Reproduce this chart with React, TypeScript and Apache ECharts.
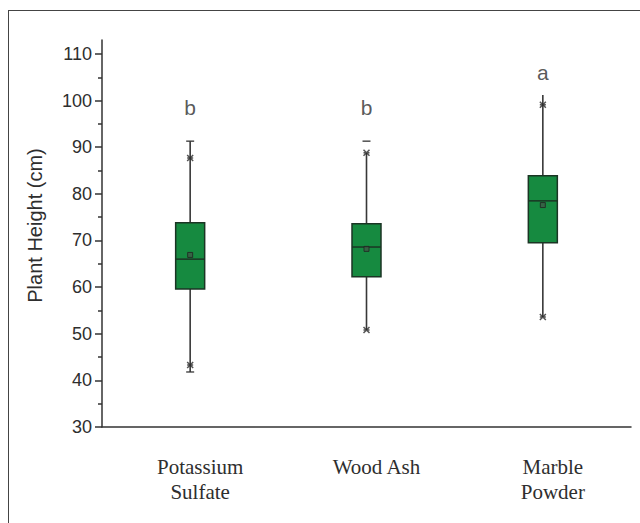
import React, { useEffect, useRef } from 'react';
import * as echarts from 'echarts';

const categories = ['Potassium\nSulfate', 'Wood Ash', 'Marble\nPowder'];
const whiskerLow = [41.8, 50.8, 53.6];
const q1 = [59.6, 62.2, 69.5];
const median = [66.0, 68.6, 78.5];
const q3 = [73.8, 73.6, 83.9];
const whiskerHigh = [91.3, 88.8, 101.2];
const meanValues = [66.9, 68.2, 77.6];
const p1Values = [43.3, 50.8, 53.6];
const p99Values = [87.7, 88.8, 99.1];
const maxValues = [91.3, 91.3, null];
const minValues = [41.8, null, null];
const groupLetters = ['b', 'b', 'a'];
const letterY = [98.5, 98.5, 106.0];
const yMajorTicks = [30, 40, 50, 60, 70, 80, 90, 100, 110];
const yMinorTicks = [35, 45, 55, 65, 75, 85, 95, 105];

const SANS = '"Liberation Sans", Arial, sans-serif';
const SERIF = '"Liberation Serif", "Times New Roman", serif';
const AXIS = '#333333';
const TEXT = '#2e2e2e';

export default function App() {
  const ref = useRef<HTMLDivElement>(null);
  useEffect(() => {
    if (!ref.current) return;
    const chart = echarts.init(ref.current, undefined, { renderer: 'svg' });
    const boxData = categories.map((_, i) => [i, whiskerLow[i], q1[i], median[i], q3[i], whiskerHigh[i]]);
    const pick = (arr: (number | null)[]) =>
      arr.map((v, i) => (v == null ? null : [i, v])).filter((d) => d !== null);
    chart.setOption({
      animation: false,
      grid: { left: 93, right: 9, top: 29, bottom: 96 },
      xAxis: {
        type: 'category',
        data: categories,
        boundaryGap: true,
        axisLine: { lineStyle: { color: AXIS, width: 1.5 } },
        axisTick: { alignWithLabel: true, length: 5, lineStyle: { color: AXIS, width: 1.5 } },
        axisLabel: {
          fontFamily: SERIF,
          fontSize: 21,
          color: TEXT,
          lineHeight: 25,
          margin: 27,
          padding: [0, 0, 0, 20],
        },
        splitLine: { show: false },
      },
      yAxis: [
        {
          type: 'value',
          position: 'left',
          min: 30,
          max: 113,
          interval: 10,
          name: 'Plant Height (cm)',
          nameLocation: 'middle',
          nameGap: 57,
          nameTextStyle: { fontFamily: SANS, fontSize: 20, color: TEXT, padding: [0, 0, 0, 16] },
          axisLine: { show: true, lineStyle: { color: AXIS, width: 1.5 } },
          axisTick: { show: true, length: 7, customValues: yMajorTicks, lineStyle: { color: AXIS, width: 1.5 } },
          axisLabel: { fontFamily: SANS, fontSize: 18, color: TEXT, margin: 10, customValues: yMajorTicks },
          splitLine: { show: false },
        },
        {
          type: 'value',
          position: 'left',
          min: 30,
          max: 113,
          interval: 10,
          axisLine: { show: false },
          axisTick: { show: true, length: 4, customValues: yMinorTicks, lineStyle: { color: AXIS, width: 1.5 } },
          axisLabel: { show: false },
          splitLine: { show: false },
        },
      ],
      series: [
        {
          type: 'custom',
          z: 2,
          data: boxData,
          encode: { x: 0, y: [1, 2, 3, 4, 5] },
          renderItem: (params: any, api: any) => {
            const c = api.value(0);
            const x = api.coord([c, api.value(3)])[0];
            const yLow = api.coord([c, api.value(1)])[1];
            const yQ1 = api.coord([c, api.value(2)])[1];
            const yMed = api.coord([c, api.value(3)])[1];
            const yQ3 = api.coord([c, api.value(4)])[1];
            const yHigh = api.coord([c, api.value(5)])[1];
            const half = 14.5;
            const whisk = { stroke: '#383838', lineWidth: 1.6 };
            return {
              type: 'group',
              children: [
                { type: 'line', shape: { x1: x, y1: yLow, x2: x, y2: yQ1 }, style: whisk },
                { type: 'line', shape: { x1: x, y1: yQ3, x2: x, y2: yHigh }, style: whisk },
                {
                  type: 'rect',
                  shape: { x: x - half, y: yQ3, width: half * 2, height: yQ1 - yQ3 },
                  style: { fill: '#168a40', stroke: '#1b3524', lineWidth: 1.5 },
                },
                {
                  type: 'line',
                  shape: { x1: x - half, y1: yMed, x2: x + half, y2: yMed },
                  style: { stroke: '#1b3524', lineWidth: 1.5 },
                },
              ],
            };
          },
        },
        {
          type: 'scatter',
          z: 3,
          data: [...pick(p1Values), ...pick(p99Values)],
          symbol: 'path://M0,0L10,10M10,0L0,10M0,5L10,5',
          symbolSize: 6,
          itemStyle: { color: 'none', borderColor: '#2a2a2a', borderWidth: 1.5 },
        },
        {
          type: 'scatter',
          z: 3,
          data: pick(meanValues),
          symbol: 'rect',
          symbolSize: 5,
          itemStyle: { color: '#3d5a45', borderColor: '#222222', borderWidth: 1 },
        },
        {
          type: 'scatter',
          z: 3,
          data: [...pick(maxValues), ...pick(minValues)],
          symbol: 'rect',
          symbolSize: [8, 1.6],
          itemStyle: { color: '#333333' },
        },
        {
          type: 'scatter',
          z: 4,
          data: pick(letterY),
          symbolSize: 1,
          itemStyle: { color: 'rgba(0,0,0,0)' },
          label: {
            show: true,
            position: 'inside',
            formatter: (p: any) => groupLetters[p.dataIndex],
            fontFamily: SANS,
            fontSize: 21,
            color: TEXT,
          },
        },
      ],
    });
    return () => chart.dispose();
  }, []);
  return (
    <div
      style={{
        position: 'absolute',
        left: 8,
        top: 10,
        width: 632,
        height: 513,
        boxSizing: 'border-box',
        borderTop: '1px solid #444',
        borderLeft: '1px solid #444',
      }}
    >
      <div ref={ref} style={{ width: 631, height: 512 }} />
    </div>
  );
}
